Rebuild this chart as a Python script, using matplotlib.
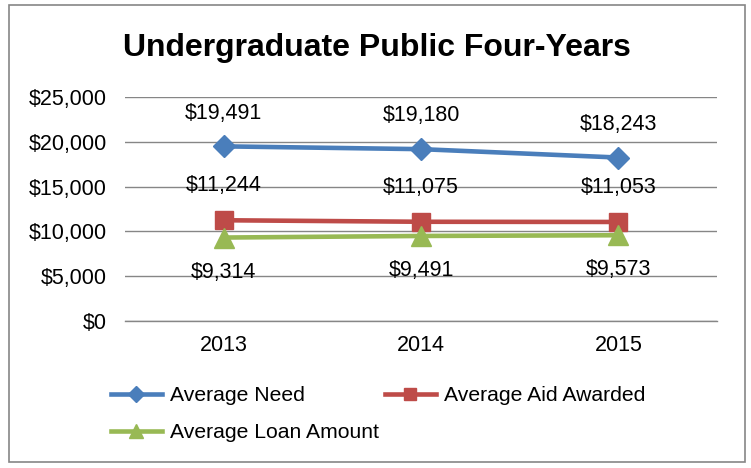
import matplotlib
matplotlib.use("Agg")
import matplotlib.pyplot as plt
from matplotlib.patches import Rectangle

years = ["2013", "2014", "2015"]
need = [19491, 19180, 18243]
aid = [11244, 11075, 11053]
loan = [9314, 9491, 9573]
yticks = [0, 5000, 10000, 15000, 20000, 25000]

plt.rcParams['font.family'] = ['Liberation Sans', 'DejaVu Sans']

fig = plt.figure(figsize=(7.51, 4.68), dpi=100)
fig.patches.append(Rectangle((9/751, 1-462/468), 736/751, 457/468, transform=fig.transFigure,
                             fill=False, edgecolor='#868686', linewidth=1.2))
ax = fig.add_axes([125/751, 1-321/468, 592/751, 224/468])

x = list(range(len(years)))
blue, red, green = '#4A7EBB', '#BE4B48', '#98B954'
ax.plot(x, need, color=blue, lw=3.3, marker='D', ms=11, label='Average Need', zorder=3)
ax.plot(x, aid, color=red, lw=3.3, marker='s', ms=13, label='Average Aid Awarded', zorder=3)
ax.plot(x, loan, color=green, lw=3.3, marker='^', ms=14, label='Average Loan Amount', zorder=3)

fs = 15.5
for i, v in enumerate(need):
    ax.annotate(f"${v:,}", (i, v), xytext=(0, 24), textcoords='offset points',
                ha='center', va='center', fontsize=fs)
for i, v in enumerate(aid):
    ax.annotate(f"${v:,}", (i, v), xytext=(0, 25), textcoords='offset points',
                ha='center', va='center', fontsize=fs)
for i, v in enumerate(loan):
    ax.annotate(f"${v:,}", (i, v), xytext=(0, -25), textcoords='offset points',
                ha='center', va='center', fontsize=fs)

ax.set_xlim(-0.5, 2.5)
ax.set_ylim(0, 25000)
ax.set_yticks(yticks)
ax.set_yticklabels([f"${t:,}" for t in yticks], fontsize=fs)
ax.set_xticks(x)
ax.set_xticklabels(years, fontsize=fs)
ax.tick_params(axis='y', length=0, pad=13)
ax.tick_params(axis='x', length=0, pad=10)
ax.grid(axis='y', color='#868686', linewidth=1)
ax.set_axisbelow(True)
for s in ['top', 'right', 'left']:
    ax.spines[s].set_visible(False)
ax.spines['bottom'].set_color('#868686')
ax.spines['bottom'].set_linewidth(1)

fig.text(377/751, 1-48/468, "Undergraduate Public Four-Years", ha='center', va='center',
         fontsize=23, fontweight='bold')

h, l = ax.get_legend_handles_labels()
order = [0, 2, 1]
leg = fig.legend([h[i] for i in order], [l[i] for i in order], ncol=2,
                 loc='upper left', bbox_to_anchor=(92/751, 1-367/468),
                 frameon=False, fontsize=15.2, handlelength=2.4, handletextpad=0.38,
                 columnspacing=0.3, labelspacing=0.85, markerscale=0.7)

fig.savefig("out.png", dpi=100)
